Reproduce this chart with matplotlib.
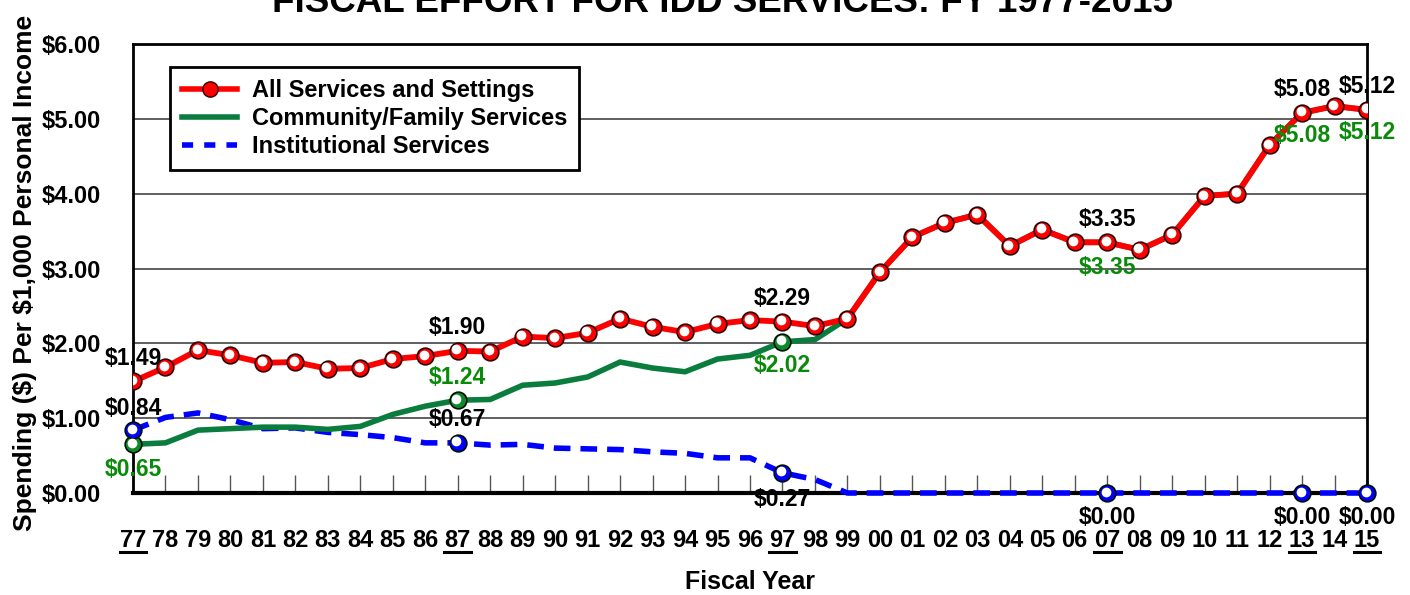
import matplotlib
matplotlib.use("Agg")
import matplotlib.pyplot as plt
from matplotlib.transforms import offset_copy

# Datos: gasto por cada $1,000 de ingreso personal
years = list(range(1977, 2016))
tick_labels = [str(y)[2:] for y in years]
underlined = ['77', '87', '97', '07', '13', '15']

all_services = [1.49, 1.68, 1.91, 1.84, 1.74, 1.75, 1.66, 1.67, 1.79, 1.83,
                1.90, 1.89, 2.09, 2.07, 2.14, 2.33, 2.22, 2.15, 2.26, 2.31,
                2.29, 2.23, 2.33, 2.95, 3.42, 3.61, 3.72, 3.30, 3.52, 3.35,
                3.35, 3.25, 3.45, 3.97, 4.00, 4.65, 5.08, 5.17, 5.12]
community = [0.65, 0.67, 0.84, 0.86, 0.88, 0.88, 0.85, 0.89, 1.05, 1.16,
             1.24, 1.25, 1.44, 1.47, 1.55, 1.75, 1.67, 1.62, 1.79, 1.84,
             2.02, 2.05, 2.33, 2.95, 3.42, 3.61, 3.72, 3.30, 3.52, 3.35,
             3.35, 3.25, 3.45, 3.97, 4.00, 4.65, 5.08, 5.17, 5.12]
institutional = [0.84, 1.01, 1.07, 0.98, 0.86, 0.87, 0.81, 0.78, 0.74, 0.67,
                 0.67, 0.64, 0.65, 0.60, 0.59, 0.58, 0.55, 0.53, 0.47, 0.47,
                 0.27, 0.18, 0.00, 0.00, 0.00, 0.00, 0.00, 0.00, 0.00, 0.00,
                 0.00, 0.00, 0.00, 0.00, 0.00, 0.00, 0.00, 0.00, 0.00]

# años con etiqueta de valor
key_years = [1977, 1987, 1997, 2007, 2013, 2015]

RED = '#ff0000'
GREEN = '#0a7d3e'
GREEN_TXT = '#0a8a0a'
BLUE = '#0000ff'

plt.rcParams['font.family'] = ['Liberation Sans', 'DejaVu Sans']
plt.rcParams['font.weight'] = 'bold'

fig = plt.figure(figsize=(14.1, 5.95), dpi=100)
ax = fig.add_axes([133 / 1410, 102 / 595, 1234 / 1410, 449 / 595])

ax.set_xlim(1977, 2015)
ax.set_ylim(0, 6)

# lineas
ax.plot(years, institutional, color=BLUE, lw=4, ls=(0, (3.0, 1.8)), zorder=3, clip_on=False)
ax.plot(years, community, color=GREEN, lw=4, zorder=4)
ax.plot(years, all_services, color=RED, lw=4.2, zorder=5)

# marcadores con brillo
hl = offset_copy(ax.transData, fig=fig, x=-1.0, y=1.0, units='points')
ax.plot(years, all_services, ls='none', marker='o', ms=12, mfc=RED, mec='#300000',
        mew=1.2, zorder=6)
ax.plot(years, all_services, ls='none', marker='o', ms=7, mfc='white', mec='none',
        zorder=7, transform=hl)
ki = [years.index(y) for y in key_years]
for vals, col, idx in [(community, '#0a8a2a', ki[:3]), (institutional, BLUE, ki)]:
    xs = [years[i] for i in idx]
    ys = [vals[i] for i in idx]
    ax.plot(xs, ys, ls='none', marker='o', ms=12, mfc=col, mec='#001000', mew=1.2,
            zorder=6, clip_on=False)
    ax.plot(xs, ys, ls='none', marker='o', ms=7, mfc='white', mec='none',
            zorder=7, transform=hl, clip_on=False)

# etiquetas de valores (dy en pixeles, positivo hacia abajo)
def label(x, v, dy, color='black'):
    ax.annotate(f'${v:.2f}', (x, v), xytext=(0, -dy), textcoords='offset pixels',
                ha='center', va='center', fontsize=16.5, fontweight='bold',
                color=color, zorder=8, annotation_clip=False)

green_dy = [25, -23, 24, 25, 23, 23]
blue_dy = [-22, -23, 27, 24, 24, 24]
for n, i in enumerate(ki):
    label(years[i], all_services[i], -23)
    label(years[i], community[i], green_dy[n], GREEN_TXT)
    label(years[i], institutional[i], blue_dy[n])

# ejes
ax.set_yticks(range(7))
ax.set_yticklabels([f'${v:.2f}' for v in range(7)], fontsize=17, fontweight='bold')
ax.tick_params(axis='y', length=0, pad=23)
ax.set_xticks(years)
ax.set_xticklabels(tick_labels, fontsize=17, fontweight='bold')
ax.tick_params(axis='x', direction='in', length=13, width=1, color='#555555', pad=26)
ax.grid(axis='y', color='#444444', lw=1.2)
for s in ['top', 'left', 'right']:
    ax.spines[s].set_linewidth(2)
ax.spines['bottom'].set_linewidth(3)

# subrayado de algunos años
for y in years:
    if tick_labels[years.index(y)] in underlined:
        ax.plot([y - 0.41, y + 0.41], [-0.131, -0.131], color='black', lw=2.2,
                transform=ax.get_xaxis_transform(), clip_on=False)

# leyenda
handles = [
    plt.Line2D([], [], color=RED, lw=4, marker='o', ms=11, mfc=RED, mec='#300000'),
    plt.Line2D([], [], color=GREEN, lw=4),
    plt.Line2D([], [], color=BLUE, lw=4, ls=(0, (2.0, 2.0))),
]
leg = ax.legend(handles, ['All Services and Settings', 'Community/Family Services',
                          'Institutional Services'],
                loc='upper left', bbox_to_anchor=(37 / 1234, 426 / 449), borderaxespad=0,
                fancybox=False, edgecolor='black', framealpha=1, handlelength=2.35,
                prop={'size': 17, 'weight': 'bold'}, labelspacing=0.22,
                borderpad=0.5, handletextpad=0.62)
leg.get_frame().set_linewidth(2)
leg.set_zorder(10)

fig.text(25 / 1410, 64 / 595, r'Spending (\$) Per \$1,000 Personal Income', rotation=90,
         ha='center', va='bottom', fontsize=19, fontweight='bold')
fig.text(750 / 1410, 13 / 595, 'Fiscal Year', ha='center', va='center',
         fontsize=18, fontweight='bold')
fig.text(722 / 1410, (595 - 12) / 595, 'FISCAL EFFORT FOR IDD SERVICES: FY 1977-2015',
         ha='center', va='baseline', fontsize=26.5, fontweight='bold')

fig.savefig('out.png', dpi=100)
